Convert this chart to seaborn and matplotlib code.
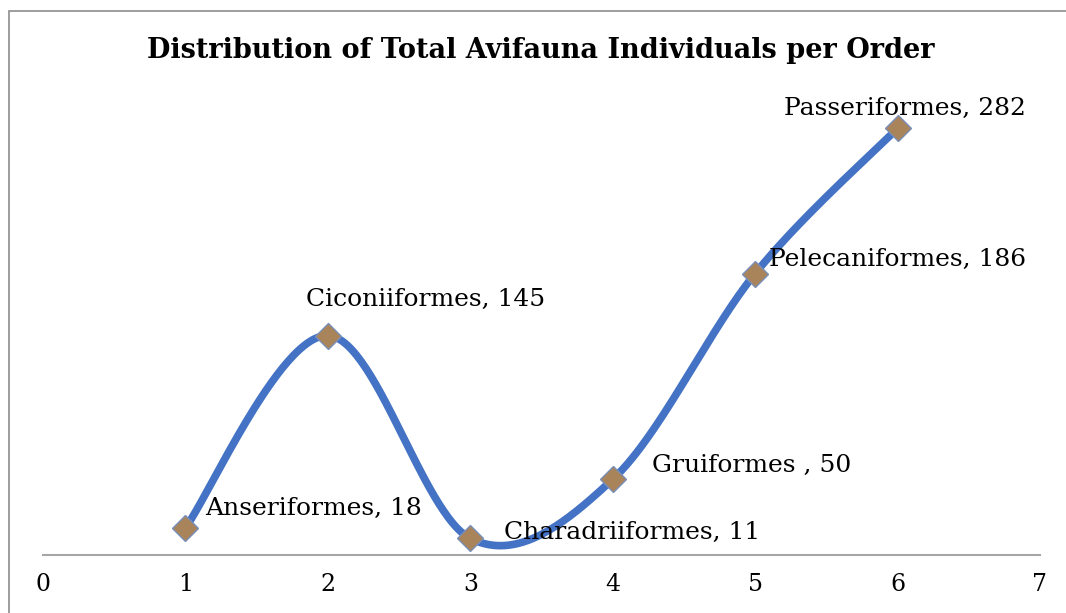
import numpy as np
import pandas as pd
import matplotlib
matplotlib.use("Agg")
import matplotlib.pyplot as plt
import seaborn as sns

orders = ["Anseriformes", "Ciconiiformes", "Charadriiformes", "Gruiformes ", "Pelecaniformes", "Passeriformes"]
counts = [18, 145, 11, 50, 186, 282]
positions = [1, 2, 3, 4, 5, 6]
x_ticks = [0, 1, 2, 3, 4, 5, 6, 7]
# label offsets (points) relative to each marker
label_offsets = [(14, 14), (-16, 26), (24, 4), (28, 10), (10, 10), (-82, 14)]


def excel_smooth(xs, ys, n=60):
    # Catmull-Rom style bezier smoothing like spreadsheet "smoothed line"
    xs = np.asarray(xs, float)
    ys = np.asarray(ys, float)
    px = np.concatenate([[xs[0]], xs, [xs[-1]]])
    py = np.concatenate([[ys[0]], ys, [ys[-1]]])
    out_x, out_y = [], []
    t = np.linspace(0, 1, n)
    for i in range(1, len(px) - 2):
        p0x, p1x, p2x, p3x = px[i - 1], px[i], px[i + 1], px[i + 2]
        p0y, p1y, p2y, p3y = py[i - 1], py[i], py[i + 1], py[i + 2]
        c1x, c1y = p1x + (p2x - p0x) / 6, p1y + (p2y - p0y) / 6
        c2x, c2y = p2x - (p3x - p1x) / 6, p2y - (p3y - p1y) / 6
        bx = (1 - t) ** 3 * p1x + 3 * (1 - t) ** 2 * t * c1x + 3 * (1 - t) * t ** 2 * c2x + t ** 3 * p2x
        by = (1 - t) ** 3 * p1y + 3 * (1 - t) ** 2 * t * c1y + 3 * (1 - t) * t ** 2 * c2y + t ** 3 * p2y
        out_x.extend(bx)
        out_y.extend(by)
    return np.array(out_x), np.array(out_y)


df = pd.DataFrame({"order": orders, "count": counts, "pos": positions})
sx, sy = excel_smooth(positions, counts)
smooth = pd.DataFrame({"x": sx, "y": sy})

sns.set_style("white")
plt.rcParams["font.family"] = ["DejaVu Serif"]
plt.rcParams["text.color"] = "black"
plt.rcParams["xtick.color"] = "black"

fig = plt.figure(figsize=(10.66, 6.13), dpi=100)
ax = fig.add_axes([43 / 1066, 58 / 613, 997 / 1066, 454 / 613])

sns.lineplot(data=smooth, x="x", y="y", ax=ax, color="#4472C4", linewidth=5.5,
             sort=False, estimator=None, clip_on=False, solid_capstyle="round")
ax.plot(df["pos"], df["count"], linestyle="none", marker="D", markersize=13,
        markerfacecolor="#A9845A", markeredgecolor="#7A8FB8", markeredgewidth=1,
        clip_on=False, zorder=5)

for i, r in df.iterrows():
    dx, dy = label_offsets[i]
    ax.annotate(f"{r['order']}, {r['count']}", (r["pos"], r["count"]),
                xytext=(dx, dy), textcoords="offset points",
                fontsize=18, va="center", ha="left", color="black")

ax.set_xlim(0, 7)
ax.set_ylim(0, 300)
ax.set_xticks(x_ticks)
ax.set_xticklabels([str(v) for v in x_ticks], fontsize=17)
ax.tick_params(axis="x", length=0, pad=13, colors="black")
ax.set_yticks([])
ax.set_xlabel("")
ax.set_ylabel("")
for s in ["top", "right", "left"]:
    ax.spines[s].set_visible(False)
ax.spines["bottom"].set_color("#A6A6A6")
ax.spines["bottom"].set_linewidth(1.5)

fig.text(541 / 1066, 1 - 50 / 613, "Distribution of Total Avifauna Individuals per Order",
         ha="center", va="center", fontsize=19.5, fontweight="bold", color="black")

# outer chart frame
frame = plt.Rectangle((9 / 1066, -0.1), 1.2, 1 - 11 / 613 + 0.1, transform=fig.transFigure,
                      fill=False, edgecolor="#8C8C8C", linewidth=1.2)
fig.patches.append(frame)

fig.savefig("out.png", dpi=100)
